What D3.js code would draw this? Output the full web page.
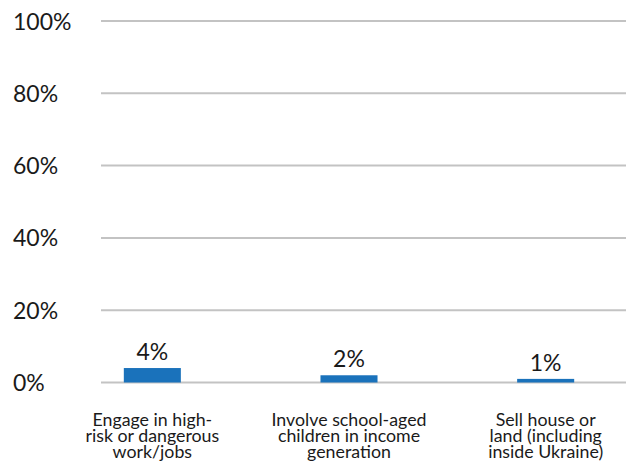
<!DOCTYPE html>
<html>
<head>
<meta charset="utf-8">
<script src="https://cdn.jsdelivr.net/npm/d3@7"></script>
<style>
  html, body { margin: 0; padding: 0; background: #fff; }
  svg { display: block; font-family: Lato, "Open Sans", sans-serif; }
</style>
</head>
<body>
<svg id="chart" width="626" height="461"></svg>
<script>
// Share of respondents reporting each coping strategy
const categories = [
  ["Engage in high-", "risk or dangerous", "work/jobs"],
  ["Involve school-aged", "children in income", "generation"],
  ["Sell house or", "land (including", "inside Ukraine)"]
];
const values = [4, 2, 1];
const yTicks = [0, 20, 40, 60, 80, 100];

const svg = d3.select("#chart");
const W = 626, H = 461;

const x = d3.scaleBand()
  .domain(d3.range(categories.length))
  .range([54, 644])
  .paddingInner(0.71)
  .paddingOuter(0.355);

const y = d3.scaleLinear().domain([0, 100]).range([382.5, 21]);

// horizontal gridlines
svg.append("g")
  .selectAll("line")
  .data(yTicks)
  .join("line")
  .attr("x1", 101).attr("x2", W)
  .attr("y1", d => y(d)).attr("y2", d => y(d))
  .attr("stroke", "#c3c3c3")
  .attr("stroke-width", 2);

// y axis tick labels
svg.append("g")
  .selectAll("text")
  .data(yTicks)
  .join("text")
  .attr("x", 13)
  .attr("y", d => y(d) + 8.5)
  .attr("font-size", 23)
  .attr("fill", "#1a1a1a")
  .text(d => d + "%");

// bars
svg.append("g")
  .selectAll("rect")
  .data(values)
  .join("rect")
  .attr("x", (d, i) => x(i))
  .attr("width", x.bandwidth())
  .attr("y", d => y(d))
  .attr("height", d => y(0) - y(d))
  .attr("fill", "#1a72bb");

// value labels
svg.append("g")
  .selectAll("text")
  .data(values)
  .join("text")
  .attr("x", (d, i) => x(i) + x.bandwidth() / 2)
  .attr("y", d => y(d) - 8)
  .attr("text-anchor", "middle")
  .attr("font-size", 23)
  .attr("fill", "#1a1a1a")
  .text(d => d + "%");

// category labels
const cat = svg.append("g")
  .selectAll("text")
  .data(categories)
  .join("text")
  .attr("text-anchor", "middle")
  .attr("font-size", 17.8)
  .attr("fill", "#1a1a1a");
cat.selectAll("tspan")
  .data((d, i) => d.map(t => ({ t, i })))
  .join("tspan")
  .attr("x", d => x(d.i) + x.bandwidth() / 2)
  .attr("y", (d, j) => 426 + j * 15.8)
  .text(d => d.t);
</script>
</body>
</html>
